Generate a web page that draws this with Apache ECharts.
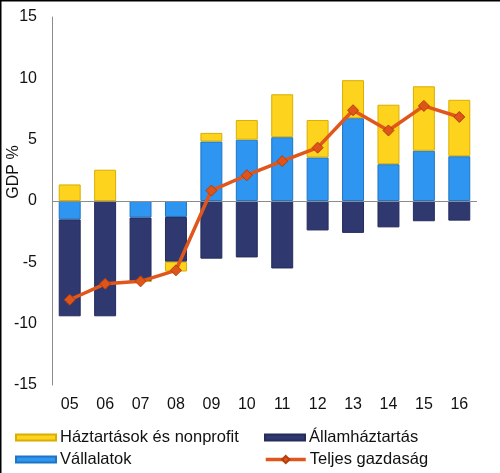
<!DOCTYPE html>
<html>
<head>
<meta charset="utf-8">
<script src="https://cdn.jsdelivr.net/npm/echarts@6/dist/echarts.min.js"></script>
<style>
html,body{margin:0;padding:0;background:#fff;}
#c{width:500px;height:473px;}
</style>
</head>
<body>
<div id="c"></div>
<script>
var categories = ['05','06','07','08','09','10','11','12','13','14','15','16'];
var vallalatok = [-1.5, 0, -1.35, -1.3, 4.85, 5.0, 5.2, 3.55, 6.75, 3.0, 4.1, 3.65];
var allamhaztartas = [-7.9, -9.4, -5.2, -3.65, -4.7, -4.6, -5.5, -2.4, -2.6, -2.15, -1.65, -1.6];
var haztartasok = [1.35, 2.55, 0, -0.8, 0.7, 1.6, 3.5, 3.05, 3.1, 4.85, 5.25, 4.6];
var teljes = [-8.05, -6.75, -6.55, -5.65, 0.85, 2.1, 3.25, 4.35, 7.4, 5.75, 7.75, 6.85];
var yTicks = {min: -15, max: 15, interval: 5};

var FONT = 'Liberation Sans, Arial, sans-serif';
var chart = echarts.init(document.getElementById('c'), null, {renderer: 'canvas'});

function leg(name, left, top, h, icon, extra) {
  var o = {
    data: [{name: name, icon: icon}], left: left, top: top, orient: 'horizontal',
    itemWidth: 40, itemHeight: h, itemGap: 0, padding: 0,
    selectedMode: false,
    textStyle: {fontFamily: FONT, fontSize: 16.5, color: '#111', padding: [0,0,0,-1]}
  };
  if (extra) { for (var k in extra) o[k] = extra[k]; }
  return o;
}

chart.setOption({
  animation: false,
  backgroundColor: '#fff',
  grid: {left: 52, right: 23, top: 17, bottom: 88},
  legend: [
    leg('Háztartások és nonprofit', 15, 429, 6, 'rect'),
    leg('Államháztartás', 264, 429, 6, 'rect'),
    leg('Vállalatok', 15, 451, 6, 'rect'),
    leg('Teljes gazdaság', 264, 451, 9, undefined, {lineStyle: {width: 3.5}})
  ],
  xAxis: {
    type: 'category', data: categories,
    axisLine: {show: false, onZero: false},
    axisTick: {show: false},
    axisLabel: {fontFamily: FONT, fontSize: 16, color: '#111', margin: 12}
  },
  yAxis: {
    type: 'value', min: yTicks.min, max: yTicks.max, interval: yTicks.interval,
    axisLine: {show: true, lineStyle: {color: '#8c8c8c', width: 1}},
    axisTick: {show: false},
    splitLine: {show: false},
    axisLabel: {fontFamily: FONT, fontSize: 16, color: '#111', margin: 15}
  },
  graphic: [
    {type: 'rect', shape: {x: 0, y: 0, width: 500, height: 1.5}, style: {fill: '#000'}},
    {type: 'rect', shape: {x: 0, y: 0, width: 1.5, height: 473}, style: {fill: '#000'}},
    {type: 'text', x: 14, y: 172, rotation: Math.PI / 2,
     style: {text: 'GDP %', font: '16px ' + FONT, fill: '#111', textAlign: 'center', textVerticalAlign: 'middle'}}
  ],
  series: [
    {
      name: 'Vállalatok', type: 'bar', stack: 's', data: vallalatok, barWidth: '62%',
      itemStyle: {color: '#2E95F0', borderColor: '#1F74C4', borderWidth: 1},
      markLine: {
        silent: true, symbol: 'none', label: {show: false},
        lineStyle: {color: '#8c8c8c', width: 1, type: 'solid'},
        data: [{yAxis: 0}]
      }
    },
    {
      name: 'Államháztartás', type: 'bar', stack: 's', data: allamhaztartas,
      itemStyle: {color: '#2F386F', borderColor: '#252c5c', borderWidth: 1}
    },
    {
      name: 'Háztartások és nonprofit', type: 'bar', stack: 's', data: haztartasok,
      itemStyle: {color: '#FDD31E', borderColor: '#D9AE00', borderWidth: 1}
    },
    {
      name: 'Teljes gazdaság', type: 'line', data: teljes, z: 5,
      symbol: 'diamond', symbolSize: 11,
      lineStyle: {color: '#E0561B', width: 3.5},
      itemStyle: {color: '#DF5418', borderColor: '#B23F0C', borderWidth: 1}
    }
  ]
});
</script>
</body>
</html>
